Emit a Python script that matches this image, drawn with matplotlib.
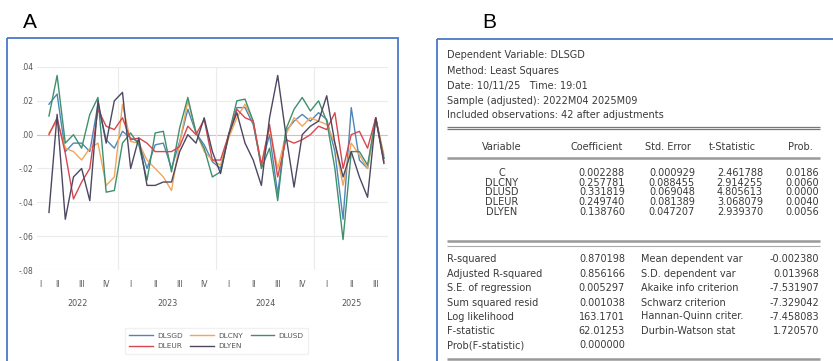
import matplotlib
matplotlib.use("Agg")
import matplotlib.pyplot as plt
from matplotlib.patches import Rectangle
from matplotlib.lines import Line2D

# ---------------- data: panel A (monthly, 2022M04 .. 2025M09) ----------------
months = list(range(42))
dlsgd = [0.018, 0.024, -0.010, -0.005, -0.005, -0.010, 0.018, -0.003, -0.008, 0.002,
         -0.002, -0.004, -0.020, -0.006, -0.005, -0.020, -0.004, 0.015, 0.001, -0.006,
         -0.016, -0.020, 0.000, 0.016, 0.016, 0.006, -0.018, 0.000, -0.035, 0.002,
         0.008, 0.012, 0.008, 0.013, 0.009, -0.010, -0.050, 0.016, -0.015, -0.020,
         0.009, -0.014]
dlcny = [0.001, 0.008, -0.008, -0.010, -0.015, -0.008, -0.005, -0.030, -0.025, 0.018,
         -0.004, -0.005, -0.015, -0.020, -0.025, -0.033, -0.005, 0.020, 0.002, -0.010,
         -0.015, -0.018, -0.002, 0.010, 0.018, 0.008, -0.018, 0.004, -0.020, 0.000,
         0.010, 0.005, 0.010, 0.008, 0.006, -0.005, -0.030, -0.005, -0.012, -0.020,
         0.010, -0.012]
dlusd = [0.011, 0.035, -0.005, 0.000, -0.008, 0.012, 0.022, -0.034, -0.033, -0.005,
         0.001, -0.006, -0.027, 0.001, 0.002, -0.022, 0.004, 0.022, 0.001, -0.008,
         -0.025, -0.022, 0.000, 0.020, 0.021, 0.008, -0.020, -0.008, -0.039, 0.003,
         0.015, 0.022, 0.014, 0.020, 0.008, -0.020, -0.062, -0.010, -0.010, -0.018,
         0.010, -0.014]
dleur = [0.000, 0.010, -0.011, -0.038, -0.028, -0.020, 0.015, 0.005, 0.003, 0.010,
         -0.003, -0.002, -0.005, -0.010, -0.010, -0.010, -0.007, 0.005, 0.000, 0.009,
         -0.015, -0.015, 0.000, 0.015, 0.010, 0.008, -0.018, 0.006, -0.025, -0.003,
         -0.005, -0.003, 0.000, 0.005, 0.003, 0.013, -0.020, 0.000, 0.002, -0.008,
         0.010, -0.016]
dlyen = [-0.046, 0.012, -0.050, -0.025, -0.020, -0.039, 0.020, -0.005, 0.020, 0.025,
         -0.020, -0.002, -0.030, -0.030, -0.028, -0.028, -0.010, 0.000, -0.005, 0.010,
         -0.010, -0.023, 0.000, 0.013, -0.005, -0.015, -0.030, 0.010, 0.035, 0.000,
         -0.031, 0.000, 0.005, 0.008, 0.023, -0.005, -0.025, -0.010, -0.025, -0.037,
         0.010, -0.017]
series_names = ["DLSGD", "DLCNY", "DLUSD", "DLEUR", "DLYEN"]
series_colors = ["#4f86b8", "#f2a65a", "#3f8f6e", "#d6474f", "#4d4861"]

quarter_pos = [-1, 1, 4, 7, 10, 13, 16, 19, 22, 25, 28, 31, 34, 37, 40]
quarter_labels = ["I", "II", "III", "IV", "I", "II", "III", "IV",
                  "I", "II", "III", "IV", "I", "II", "III"]
year_pos = [3.5, 14.5, 26.5, 37]
year_labels = ["2022", "2023", "2024", "2025"]
year_bounds = [8.5, 20.5, 32.5]
ytick_vals = [0.04, 0.02, 0.0, -0.02, -0.04, -0.06, -0.08]
ytick_labels = [".04", ".02", ".00", "-.02", "-.04", "-.06", "-.08"]

# ---------------- data: panel B (regression output) ----------------
header_lines = ["Dependent Variable: DLSGD",
                "Method: Least Squares",
                "Date: 10/11/25   Time: 19:01",
                "Sample (adjusted): 2022M04 2025M09",
                "Included observations: 42 after adjustments"]
col_headers = ["Variable", "Coefficient", "Std. Error", "t-Statistic", "Prob."]
var_names = ["C", "DLCNY", "DLUSD", "DLEUR", "DLYEN"]
coefs = ["0.002288", "0.257781", "0.331819", "0.249740", "0.138760"]
std_errs = ["0.000929", "0.088455", "0.069048", "0.081389", "0.047207"]
t_stats = ["2.461788", "2.914255", "4.805613", "3.068079", "2.939370"]
probs = ["0.0186", "0.0060", "0.0000", "0.0040", "0.0056"]
stat_labels_l = ["R-squared", "Adjusted R-squared", "S.E. of regression",
                 "Sum squared resid", "Log likelihood", "F-statistic", "Prob(F-statistic)"]
stat_values_l = ["0.870198", "0.856166", "0.005297", "0.001038", "163.1701",
                 "62.01253", "0.000000"]
stat_labels_r = ["Mean dependent var", "S.D. dependent var", "Akaike info criterion",
                 "Schwarz criterion", "Hannan-Quinn criter.", "Durbin-Watson stat"]
stat_values_r = ["-0.002380", "0.013968", "-7.531907", "-7.329042", "-7.458083",
                 "1.720570"]

W, H = 833, 361
fig = plt.figure(figsize=(W / 100, H / 100), dpi=100)
fig.patch.set_facecolor("white")

# background overlay in pixel coordinates
bg = fig.add_axes([0, 0, 1, 1], zorder=0)
bg.set_xlim(0, W)
bg.set_ylim(H, 0)
bg.axis("off")

BORDER = "#4a78c8"
bg.add_patch(Rectangle((7, 38), 391, 330, fill=False, ec=BORDER, lw=1.3))
bg.add_patch(Rectangle((437, 39), 400, 330, fill=False, ec=BORDER, lw=1.3))
bg.text(30, 23, "A", fontsize=15, ha="center", va="center", family="Liberation Sans")
bg.text(489, 23, "B", fontsize=15, ha="center", va="center", family="Liberation Sans")

# ---------------- panel A chart ----------------
px_l, px_r, px_t, px_b = 36.7, 388.0, 67.0, 270.0
ax = fig.add_axes([px_l / W, 1 - px_b / H, (px_r - px_l) / W, (px_b - px_t) / H], zorder=2)
ax.patch.set_alpha(0)
ax.set_xlim(-1.5, 41.5)
ax.set_ylim(-0.08, 0.04)
for s in ax.spines.values():
    s.set_visible(False)
for v in ytick_vals:
    if v == 0.0:
        ax.axhline(v, color="#f3b3b3", lw=0.8, zorder=1)
    else:
        ax.axhline(v, color="#ebebeb", lw=0.8, zorder=1)
for b in year_bounds:
    ax.axvline(b, color="#ebebeb", lw=0.8, zorder=1)

all_series = [dlsgd, dlcny, dlusd, dleur, dlyen]
handles = []
for data, name, col in zip(all_series, series_names, series_colors):
    h, = ax.plot(months, data, color=col, lw=1.0, label=name, zorder=3)
    handles.append(h)

ax.set_yticks(ytick_vals)
ax.set_yticklabels(ytick_labels)
ax.set_xticks(quarter_pos)
ax.set_xticklabels(quarter_labels)
ax.tick_params(axis="y", length=0, pad=2.5, labelsize=5.5, labelcolor="#555555")
ax.tick_params(axis="x", length=0, pad=7, labelsize=5.5, labelcolor="#555555")
for xp, lab in zip(year_pos, year_labels):
    ax.text(xp, -0.163, lab, transform=ax.get_xaxis_transform(), ha="center",
            va="center", fontsize=5.8, color="#555555")

order = [0, 3, 1, 4, 2]
leg = fig.legend([handles[i] for i in order], [series_names[i] for i in order],
                 ncol=3, loc="center", bbox_to_anchor=(216.5 / W, 1 - 341 / H),
                 fontsize=5.3, frameon=True, fancybox=False, edgecolor="#eeeeee",
                 handlelength=3.2, columnspacing=1.0, labelspacing=0.55,
                 handletextpad=0.6, borderpad=0.6)
for t in leg.get_texts():
    t.set_color("#555555")

# ---------------- panel B regression table ----------------
TFS = 7.0
TC = "#3a3a3a"
LC = "#777777"
xL = 447
for y, line in zip([55, 71.5, 86, 100.5, 115], header_lines):
    bg.text(xL, y, line, fontsize=TFS, color=TC, va="center", ha="left")

def hline(y, lw=1.0, color=LC):
    bg.plot([447, 820], [y, y], color=color, lw=lw, solid_capstyle="butt")

hline(126.5, 0.9)
hline(129.3, 0.9)
head_x = [502, 597, 668, 732, 800]
for x, t in zip(head_x, col_headers):
    bg.text(x, 147, t, fontsize=TFS, color=TC, va="center", ha="center")
hline(157.5, 1.8, "#999999")

row_y = [173, 182.7, 192.3, 202, 211.7]
for i, y in enumerate(row_y):
    bg.text(502, y, var_names[i], fontsize=TFS, color=TC, va="center", ha="center")
    bg.text(625, y, coefs[i], fontsize=TFS, color=TC, va="center", ha="right")
    bg.text(695, y, std_errs[i], fontsize=TFS, color=TC, va="center", ha="right")
    bg.text(763, y, t_stats[i], fontsize=TFS, color=TC, va="center", ha="right")
    bg.text(819, y, probs[i], fontsize=TFS, color=TC, va="center", ha="right")

hline(240.5, 1.8, "#999999")
hline(246, 0.8, "#aaaaaa")

stat_y = [259.5, 274, 288, 302.5, 316.5, 331, 345]
for i, y in enumerate(stat_y):
    bg.text(447, y, stat_labels_l[i], fontsize=TFS, color=TC, va="center", ha="left")
    bg.text(625, y, stat_values_l[i], fontsize=TFS, color=TC, va="center", ha="right")
    if i < len(stat_labels_r):
        bg.text(641, y, stat_labels_r[i], fontsize=TFS, color=TC, va="center", ha="left")
        bg.text(819, y, stat_values_r[i], fontsize=TFS, color=TC, va="center", ha="right")
hline(358.5, 1.8, "#999999")

fig.savefig("out.png", dpi=100)
